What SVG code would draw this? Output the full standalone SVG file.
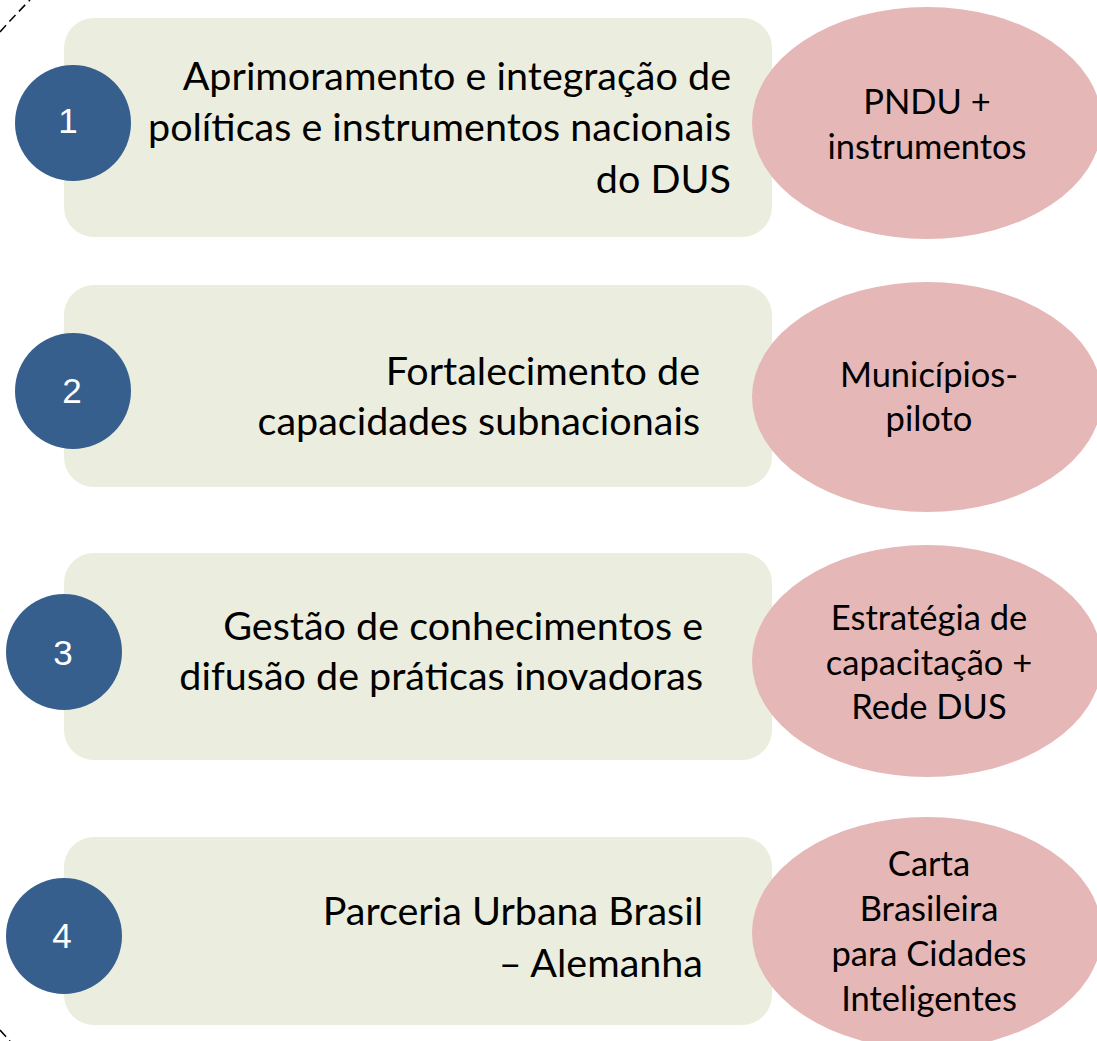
<svg xmlns="http://www.w3.org/2000/svg" width="1097" height="1041" viewBox="0 0 1097 1041">
<style>
.box{fill:#EBEEDE}
.ell{fill:#E6B7B7}
.num{fill:#365F8E}
.numt{font-family:"Liberation Sans",Arial,sans-serif;font-size:35px;fill:#fff;text-anchor:middle}
.bt{font-family:Lato,"Liberation Sans",sans-serif;font-size:39.5px;fill:#000;text-anchor:end}
.et{font-family:Lato,"Liberation Sans",sans-serif;font-size:34.5px;fill:#000;text-anchor:middle}
.arc{fill:none;stroke:#000;stroke-width:1.5;stroke-dasharray:9 5}
</style>
<g id="frame">
<path class="arc" d="M0 32 A753 753 0 0 1 30 0"/>
<path class="arc" d="M0 1030 A753 753 0 0 0 10 1041"/>
</g>
<g id="node1">
<rect class="box" x="64" y="18" width="708" height="219" rx="30"/>
<text class="bt" x="731" y="90">Aprimoramento e integração de</text>
<text class="bt" x="731" y="141">políticas e instrumentos nacionais</text>
<text class="bt" x="731" y="193">do DUS</text>
<circle class="num" cx="73" cy="123" r="58"/>
<text class="numt" x="68" y="133">1</text>
<ellipse class="ell" cx="927" cy="123" rx="175" ry="116"/>
<text class="et" x="927" y="114">PNDU +</text>
<text class="et" x="927" y="159">instrumentos</text>
</g>
<g id="node2">
<rect class="box" x="64" y="285" width="708" height="202" rx="30"/>
<text class="bt" x="700" y="385">Fortalecimento de</text>
<text class="bt" x="700" y="435">capacidades subnacionais</text>
<circle class="num" cx="73" cy="391" r="58"/>
<text class="numt" x="72" y="403">2</text>
<ellipse class="ell" cx="927" cy="397" rx="175" ry="115"/>
<text class="et" x="929" y="387">Municípios-</text>
<text class="et" x="929" y="431">piloto</text>
</g>
<g id="node3">
<rect class="box" x="64" y="553" width="708" height="207" rx="30"/>
<text class="bt" x="703" y="640">Gestão de conhecimentos e</text>
<text class="bt" x="703" y="690">difusão de práticas inovadoras</text>
<circle class="num" cx="64" cy="652" r="58"/>
<text class="numt" x="63" y="665">3</text>
<ellipse class="ell" cx="927" cy="661" rx="175" ry="116"/>
<text class="et" x="929" y="630">Estratégia de</text>
<text class="et" x="929" y="675">capacitação +</text>
<text class="et" x="929" y="719">Rede DUS</text>
</g>
<g id="node4">
<rect class="box" x="64" y="837" width="708" height="188" rx="30"/>
<text class="bt" x="703" y="925">Parceria Urbana Brasil</text>
<text class="bt" x="703" y="977">– Alemanha</text>
<circle class="num" cx="64" cy="936" r="58"/>
<text class="numt" x="62" y="948">4</text>
<ellipse class="ell" cx="927" cy="933" rx="175" ry="116"/>
<text class="et" x="929" y="876">Carta</text>
<text class="et" x="929" y="921">Brasileira</text>
<text class="et" x="929" y="966">para Cidades</text>
<text class="et" x="929" y="1011">Inteligentes</text>
</g>
<g id="connectors"></g>
</svg>
